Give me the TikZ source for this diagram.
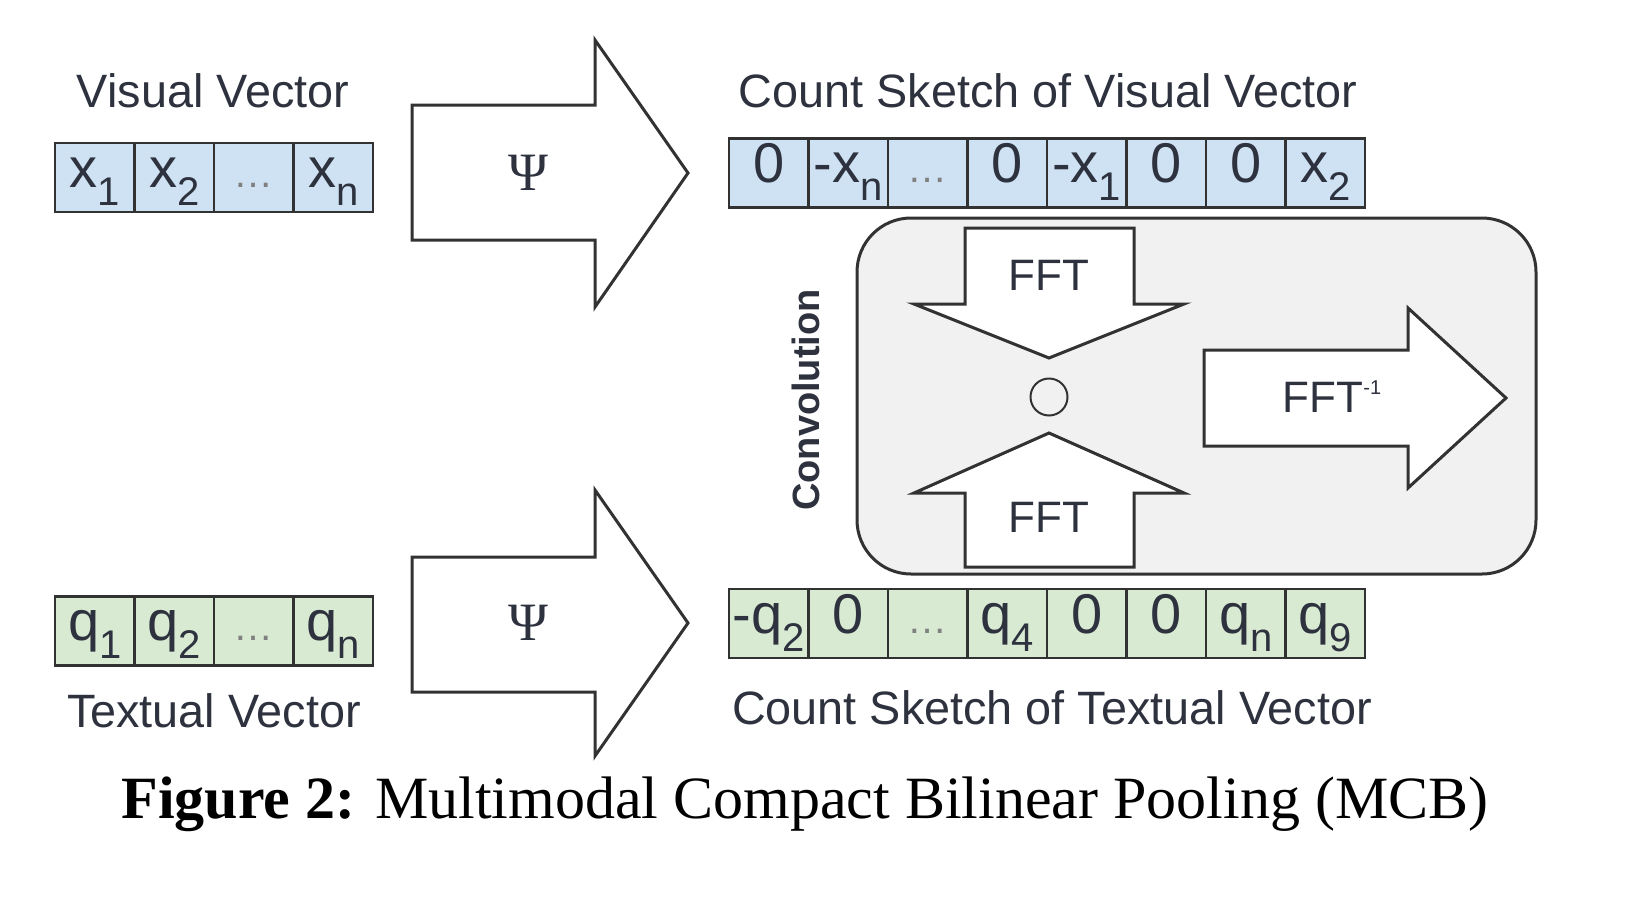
\documentclass[tikz,border=0pt]{standalone}
\usepackage{fontspec}
\setmainfont{Liberation Sans}
\newfontfamily\serifcap{Liberation Serif}
\usepackage{tikz}
\usetikzlibrary{positioning}
\definecolor{cellblue}{RGB}{207,226,243}
\definecolor{cellgreen}{RGB}{217,234,211}
\definecolor{boxgray}{RGB}{241,241,241}
\definecolor{linegray}{RGB}{50,50,50}
\definecolor{labelgray}{RGB}{45,50,62}
\newcommand{\cellsub}[1]{{\fontsize{20pt}{20pt}\selectfont\raisebox{-9pt}{#1}}}
\newcommand{\celldots}{{\fontsize{20pt}{20pt}\selectfont\color{gray}\ldots}}

\begin{document}
\begin{tikzpicture}[x=0.5pt,y=-0.5pt,
  vcell/.style={draw=linegray, fill=cellblue, line width=1.2pt, outer sep=0pt,
    minimum width=39.75pt, inner xsep=0pt, inner ysep=0pt,
    text height=22pt, text depth=12.5pt, text=labelgray,
    font=\fontsize{28pt}{28pt}\selectfont},
  tcell/.style={vcell, fill=cellgreen},
  blockarrow/.style={draw=linegray, fill=white, line width=1.5pt, line join=miter},
  title/.style={text=labelgray, font=\fontsize{23.4pt}{23.4pt}\selectfont},
  fftlabel/.style={text=labelgray, font=\fontsize{22pt}{22pt}\selectfont}]
\useasboundingbox (0,0) rectangle (1632,900);

% visual vector
\node[title] (vislabel) at (213,91) {Visual Vector};
\node[vcell] (x1) at (94.75,177.5) {x\cellsub{1}};
\node[vcell, right=0pt of x1] (x2) {x\cellsub{2}};
\node[vcell, right=0pt of x2] (x3) {\celldots};
\node[vcell, right=0pt of x3] (x4) {x\cellsub{n}};

% textual vector
\node[tcell] (q1) at (94.75,631) {q\cellsub{1}};
\node[tcell, right=0pt of q1] (q2) {q\cellsub{2}};
\node[tcell, right=0pt of q2] (q3) {\celldots};
\node[tcell, right=0pt of q3] (q4) {q\cellsub{n}};
\node[title] (txtlabel) at (214,711) {Textual Vector};

% psi arrows
\draw[blockarrow] (412,105) -- (595,105) -- (595,40) -- (688,173) -- (595,307) -- (595,240) -- (412,240) -- cycle;
\node[text=labelgray, font=\serifcap\fontsize{27pt}{27pt}\selectfont] (psiv) at (528,173) {Ψ};
\draw[blockarrow] (412,557) -- (595,557) -- (595,490) -- (688,623) -- (595,756) -- (595,692) -- (412,692) -- cycle;
\node[text=labelgray, font=\serifcap\fontsize{27pt}{27pt}\selectfont] (psit) at (528,623) {Ψ};

% count sketch of visual vector
\node[title] (cslabelv) at (1048,91) {Count Sketch of Visual Vector};
\node[vcell] (v1) at (768.75,173) {0};
\node[vcell, right=0pt of v1] (v2) {-x\cellsub{n}};
\node[vcell, right=0pt of v2] (v3) {\celldots};
\node[vcell, right=0pt of v3] (v4) {0};
\node[vcell, right=0pt of v4] (v5) {-x\cellsub{1}};
\node[vcell, right=0pt of v5] (v6) {0};
\node[vcell, right=0pt of v6] (v7) {0};
\node[vcell, right=0pt of v7] (v8) {x\cellsub{2}};

% convolution box
\draw[draw=linegray, fill=boxgray, line width=1.5pt, rounded corners=27pt] (857,218) rectangle (1536,574);
\node[rotate=90, text=labelgray, font=\bfseries\fontsize{19pt}{19pt}\selectfont] (convlabel) at (806,400) {Convolution};
\draw[blockarrow] (965,228) -- (1134,228) -- (1134,304) -- (1184,304) -- (1049,358) -- (914,304) -- (965,304) -- cycle;
\node[fftlabel] (fftv) at (1049,275) {FFT};
\node[draw=linegray, line width=1pt, circle, minimum size=18.5pt, inner sep=0pt] (prod) at (1049,397) {};
\draw[blockarrow] (965,567) -- (1134,567) -- (1134,493) -- (1184,493) -- (1049,433) -- (914,493) -- (965,493) -- cycle;
\node[fftlabel] (fftt) at (1049,517) {FFT};
\draw[blockarrow] (1204,350) -- (1408,350) -- (1408,308) -- (1506,398) -- (1408,488) -- (1408,446) -- (1204,446) -- cycle;
\node[fftlabel] (ifft) at (1332,397) {FFT\raisebox{9pt}{\fontsize{10pt}{10pt}\selectfont -1}};

% count sketch of textual vector
\node[tcell] (t1) at (768.75,623.5) {-q\cellsub{2}};
\node[tcell, right=0pt of t1] (t2) {0};
\node[tcell, right=0pt of t2] (t3) {\celldots};
\node[tcell, right=0pt of t3] (t4) {q\cellsub{4}};
\node[tcell, right=0pt of t4] (t5) {0};
\node[tcell, right=0pt of t5] (t6) {0};
\node[tcell, right=0pt of t6] (t7) {q\cellsub{n}};
\node[tcell, right=0pt of t7] (t8) {q\cellsub{9}};
\node[title] (cslabelt) at (1052,708) {Count Sketch of Textual Vector};

\node[font=\serifcap\fontsize{30pt}{30pt}\selectfont] (caption) at (805,804) {\textbf{Figure 2:} Multimodal Compact Bilinear Pooling (MCB)};
\end{tikzpicture}
\end{document}
